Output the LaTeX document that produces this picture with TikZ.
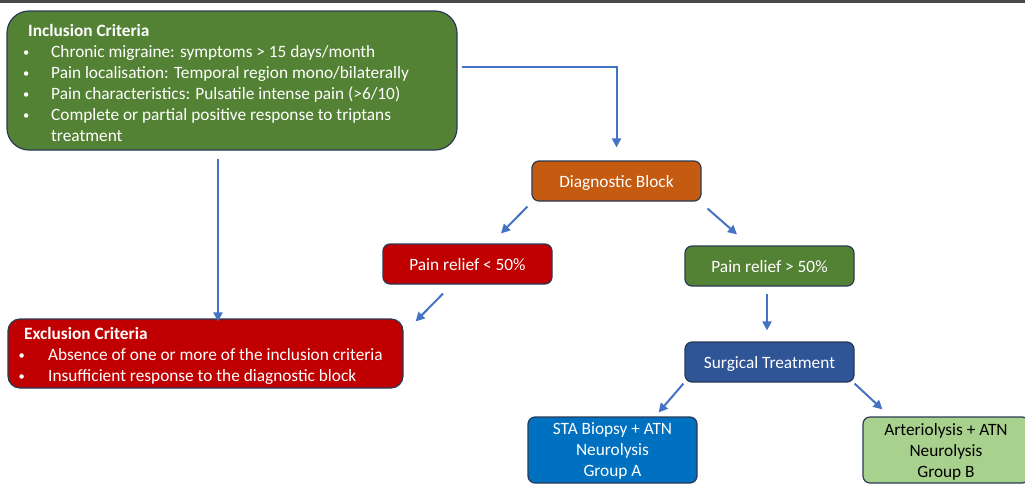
\documentclass[tikz,border=0pt]{standalone}
\usepackage{fontspec}
\setmainfont{Carlito}
\usetikzlibrary{arrows.meta}
\definecolor{grn}{HTML}{548235}
\definecolor{rd}{HTML}{C00000}
\definecolor{org}{HTML}{C55A11}
\definecolor{dblu}{HTML}{2F5597}
\definecolor{blu}{HTML}{0070C0}
\definecolor{lgrn}{HTML}{A9D18E}
\definecolor{arrc}{HTML}{4472C4}
\definecolor{outl}{HTML}{2A3A55}
\definecolor{topc}{HTML}{4A4A4A}
\newcommand\smbul{\raisebox{0.8pt}{\fontsize{12.5}{12.5}\selectfont\textbullet}}
\newcommand\incbul{\makebox[29pt][l]{\hspace{1pt}\smbul}}
\newcommand\excbul{\makebox[30.5pt][l]{\hspace{1pt}\smbul}}
\begin{document}
\begin{tikzpicture}[x=1pt,y=-1pt,
  box/.style={draw=outl, line width=1.2pt, rounded corners=7pt, text=white,
    font=\fontsize{17.3}{21}\selectfont, inner sep=0pt, align=center, text depth=-1pt},
  one/.style={text height=12pt},
  txt/.style={text=white, inner sep=0pt, font=\fontsize{17.3}{21}\selectfont},
  arr/.style={draw=arrc, line width=2pt, -{Triangle[length=9pt,width=9pt]}}]
\useasboundingbox (0,0) rectangle (1025,491);
\fill[topc] (0,0) rectangle (1025,2.5);
% boxes
\node[box, fill=grn, rounded corners=22pt, minimum width=450pt, minimum height=139pt] (inc) at (232,80.5) {};
\node[box, fill=rd, rounded corners=12pt, minimum width=395pt, minimum height=69pt] (exc) at (205.5,353.5) {};
\node[box, one, fill=org, minimum width=169pt, minimum height=40pt] (diag) at (616.5,181) {Diagnostic Block};
\node[box, one, fill=rd, minimum width=169pt, minimum height=40pt] (lo) at (467.5,264) {Pain relief < 50\%};
\node[box, one, fill=grn, minimum width=169pt, minimum height=40pt] (hi) at (769.5,266) {Pain relief > 50\%};
\node[box, one, fill=dblu, minimum width=169pt, minimum height=40pt] (surg) at (769.5,362) {Surgical Treatment};
\node[box, fill=blu, minimum width=169pt, minimum height=66pt] (sta) at (612.5,450) {STA Biopsy + ATN\\Neurolysis\\Group A};
\node[box, fill=lgrn, text=black, minimum width=166pt, minimum height=66pt] (art) at (946,450) {Arteriolysis + ATN\\Neurolysis\\Group B};
% list texts
\node[txt, anchor=base west] (inct) at (22,36) {\begin{tabular}[t]{@{}l@{}}
\hspace{6pt}\textbf{Inclusion Criteria}\\
\incbul Chronic migraine: symptoms > 15 days/month\\
\incbul Pain localisation: Temporal region mono/bilaterally\\
\incbul Pain characteristics: Pulsatile intense pain (>6/10)\\
\incbul Complete or partial positive response to triptans\\
\hspace*{29pt}treatment
\end{tabular}};
\node[txt, anchor=base west] (exct) at (17.5,339) {\begin{tabular}[t]{@{}l@{}}
\hspace{6.5pt}\textbf{Exclusion Criteria}\\
\excbul Absence of one or more of the inclusion criteria\\
\excbul Insufficient response to the diagnostic block
\end{tabular}};
% connectors
\draw[arr] ([xshift=4pt,yshift=13.5pt]inc.east) -| ([yshift=13pt]diag.north);
\draw[arr, shorten >=5pt] ([xshift=-14pt,yshift=-8pt]inc.south) -- ([xshift=-14pt,yshift=-8pt]inc.south |- exc.north);
\draw[arr] ([xshift=-4pt,yshift=-5pt]diag.south west) -- ([xshift=33.5pt,yshift=10pt]lo.north);
\draw[arr] ([xshift=6pt,yshift=-7pt]diag.south east) -- ([xshift=-32.5pt,yshift=11pt]hi.north);
\draw[arr] ([xshift=-24.5pt,yshift=-9pt]lo.south) -- ([xshift=12pt,yshift=-3pt]exc.north east);
\draw[arr] ([xshift=-2.5pt,yshift=-7pt]hi.south) -- ([xshift=-2.5pt,yshift=11pt]surg.north);
\draw[arr] ([xshift=-1pt,yshift=-1pt]surg.south west) -- ([xshift=-39pt,yshift=4pt]sta.north east);
\draw[arr] ([yshift=-1pt]surg.south east) -- ([xshift=20pt,yshift=7pt]art.north west);
\end{tikzpicture}
\end{document}
